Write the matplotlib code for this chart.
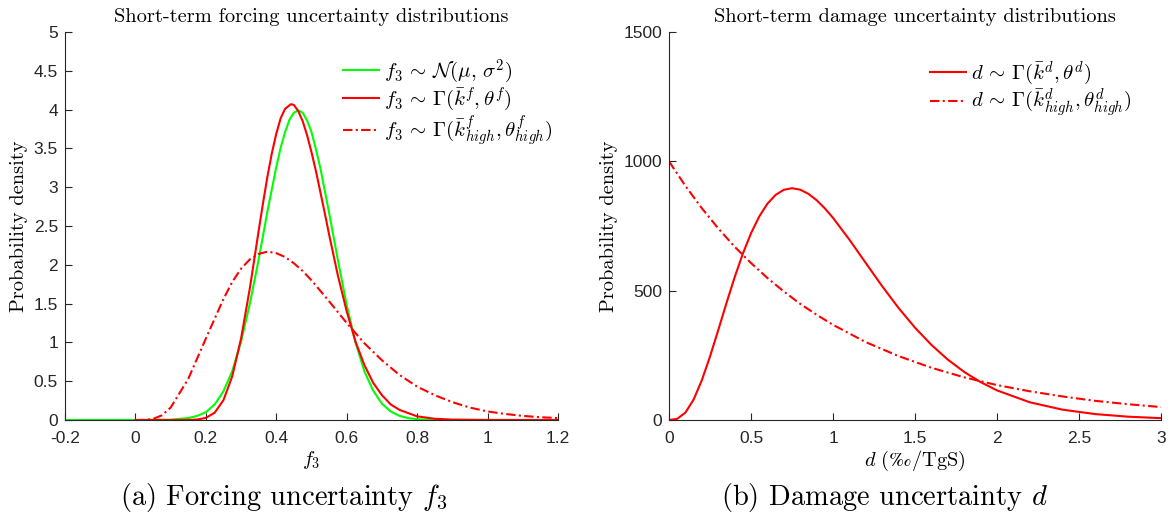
import matplotlib
matplotlib.use("Agg")
import matplotlib.pyplot as plt
from matplotlib.ticker import FuncFormatter

plt.rcParams['mathtext.fontset'] = 'cm'
plt.rcParams['axes.unicode_minus'] = False

# ---------------- data ----------------
# Panel (a): forcing f3
x_norm = [-0.2, 0.0, 0.1, 0.15, 0.175, 0.2, 0.225, 0.25, 0.275, 0.3, 0.325, 0.35,
          0.375, 0.4, 0.4125, 0.425, 0.4375, 0.45, 0.4625, 0.475, 0.4875, 0.5,
          0.5125, 0.525, 0.55, 0.575, 0.6, 0.625, 0.65, 0.675, 0.7, 0.725, 0.75,
          0.775, 0.8, 0.85, 0.9, 1.0, 1.2]
y_norm = [0, 0, 0.004, 0.025, 0.052, 0.10, 0.20, 0.37, 0.63, 1.01, 1.50, 2.07,
          2.69, 3.26, 3.51, 3.71, 3.87, 3.96, 3.99, 3.96, 3.86, 3.71,
          3.49, 3.25, 2.67, 2.06, 1.48, 1.00, 0.63, 0.38, 0.21, 0.11, 0.053,
          0.024, 0.010, 0.0015, 0.0002, 0, 0]

x_gam = [0, 0.1, 0.15, 0.175, 0.2, 0.225, 0.25, 0.275, 0.3, 0.325, 0.3375, 0.35,
         0.3625, 0.375, 0.3875, 0.4, 0.4125, 0.425, 0.4416, 0.45, 0.4625, 0.475,
         0.4875, 0.5, 0.5125, 0.525, 0.5375, 0.55, 0.575, 0.6, 0.625, 0.65,
         0.675, 0.7, 0.725, 0.75, 0.8, 0.85, 0.9, 1.0, 1.2]
y_gam = [0, 0, 0.001, 0.006, 0.027, 0.094, 0.256, 0.564, 1.05, 1.70, 2.07, 2.44,
         2.80, 3.14, 3.44, 3.69, 3.89, 4.01, 4.07, 4.06, 3.98, 3.85,
         3.67, 3.45, 3.21, 2.94, 2.67, 2.39, 1.86, 1.40, 1.01, 0.71,
         0.48, 0.32, 0.20, 0.13, 0.047, 0.016, 0.005, 0.0005, 0]

x_high = [0, 0.025, 0.05, 0.075, 0.1, 0.15, 0.2, 0.25, 0.275, 0.3, 0.325, 0.35,
          0.375, 0.4, 0.425, 0.45, 0.475, 0.5, 0.55, 0.6, 0.65, 0.7, 0.75, 0.8,
          0.85, 0.9, 0.95, 1.0, 1.05, 1.1, 1.15, 1.2]
y_high = [0, 0.001, 0.014, 0.06, 0.16, 0.53, 1.05, 1.56, 1.78, 1.95, 2.07, 2.14,
          2.17, 2.15, 2.10, 2.02, 1.92, 1.80, 1.53, 1.25, 0.99, 0.77, 0.58, 0.43,
          0.32, 0.23, 0.16, 0.11, 0.078, 0.053, 0.036, 0.025]

# Panel (b): damage d
x_d = [0, 0.05, 0.1, 0.15, 0.2, 0.25, 0.3, 0.35, 0.4, 0.45, 0.5, 0.55, 0.6,
       0.65, 0.7, 0.75, 0.8, 0.85, 0.9, 0.95, 1.0, 1.1, 1.2, 1.3, 1.4, 1.5,
       1.6, 1.7, 1.8, 1.9, 2.0, 2.2, 2.4, 2.6, 2.8, 3.0]
y_d = [0, 4.4, 28.6, 79.0, 153.4, 245.3, 347.0, 451.1, 551.3, 642.7, 721.8,
       786.5, 836.1, 870.3, 889.9, 896.2, 890.4, 874.4, 849.8, 818.3, 781.5,
       697.2, 606.8, 517.1, 432.9, 356.9, 290.4, 233.5, 185.8, 146.5, 114.5,
       68.5, 39.9, 22.8, 12.8, 7.1]

x_dh = [0, 0.1, 0.2, 0.3, 0.4, 0.5, 0.6, 0.7, 0.8, 0.9, 1.0, 1.2, 1.4, 1.6,
        1.8, 2.0, 2.2, 2.4, 2.6, 2.8, 3.0]
y_dh = [1000, 905, 819, 741, 670, 607, 549, 497, 449, 407, 368, 301, 247, 202,
        165, 135, 111, 91, 74, 61, 50]

xticks_a = [-0.2, 0, 0.2, 0.4, 0.6, 0.8, 1.0, 1.2]
yticks_a = [0, 0.5, 1, 1.5, 2, 2.5, 3, 3.5, 4, 4.5, 5]
xticks_b = [0, 0.5, 1, 1.5, 2, 2.5, 3]
yticks_b = [0, 500, 1000, 1500]

# ---------------- figure ----------------
W, H = 1171, 520
fig = plt.figure(figsize=(W / 100, H / 100), dpi=100)

def px_axes(x0, x1, ytop, ybot):
    return fig.add_axes([x0 / W, 1 - ybot / H, (x1 - x0) / W, (ybot - ytop) / H])

ax1 = px_axes(65, 558, 32, 420)
ax2 = px_axes(669, 1161, 32, 420)

axcol = '#262626'
cmfam = ['cmr10', 'DejaVu Serif']
fs = 14.7
fmt = FuncFormatter(lambda v, p: '%g' % v)
dashdot = (0, (4.5, 1.6, 1, 1.6))

for ax in (ax1, ax2):
    for s in ('top', 'right'):
        ax.spines[s].set_visible(False)
    for s in ('left', 'bottom'):
        ax.spines[s].set_color(axcol)
        ax.spines[s].set_linewidth(0.8)
    ax.tick_params(direction='in', length=5, width=0.8, colors=axcol,
                   labelsize=12.5, labelcolor='#262626')
    ax.tick_params(axis='x', pad=8)
    ax.tick_params(axis='y', pad=5)
    for lab in ax.get_xticklabels() + ax.get_yticklabels():
        lab.set_family('Liberation Sans')
    ax.xaxis.set_major_formatter(fmt)
    ax.yaxis.set_major_formatter(fmt)

leg_kw = dict(loc='upper left', frameon=False, fontsize=15, borderpad=0,
              borderaxespad=0, handlelength=1.75, handletextpad=0.25,
              labelspacing=0.0)

# panel (a)
ax1.plot(x_norm, y_norm, color=(0, 1, 0), lw=1.5,
         label=r'$f_3 \,\sim\, \mathcal{N}(\mu,\, \sigma^2)$')
ax1.plot(x_gam, y_gam, color=(1, 0, 0), lw=1.5,
         label=r'$f_3 \,\sim\, \Gamma(\bar{k}^f, \theta^f)$')
ax1.plot(x_high, y_high, color=(1, 0, 0), lw=1.5, ls=dashdot,
         label=r'$f_3 \,\sim\, \Gamma(\bar{k}^f_{high}, \theta^f_{high})$')
ax1.set_xlim(-0.2, 1.2)
ax1.set_ylim(0, 5)
ax1.set_xticks(xticks_a)
ax1.set_yticks(yticks_a)
ax1.set_title('Short-term forcing uncertainty distributions', family=cmfam,
              fontsize=fs, pad=7)
ax1.set_ylabel('Probability density', family=cmfam, fontsize=fs, labelpad=4)
ax1.set_xlabel(r'$f_3$', fontsize=fs, labelpad=2)
ax1.legend(bbox_to_anchor=(0.563, 0.935), **leg_kw)

# panel (b)
ax2.plot(x_d, y_d, color=(1, 0, 0), lw=1.5,
         label=r'$d \,\sim\, \Gamma(\bar{k}^d, \theta^d)$')
ax2.plot(x_dh, y_dh, color=(1, 0, 0), lw=1.5, ls=dashdot,
         label=r'$d \,\sim\, \Gamma(\bar{k}^d_{high}, \theta^d_{high})$')
ax2.set_xlim(0, 3)
ax2.set_ylim(0, 1500)
ax2.set_xticks(xticks_b)
ax2.set_yticks(yticks_b)
ax2.set_title('Short-term damage uncertainty distributions', family=cmfam,
              fontsize=fs, pad=7)
ax2.set_ylabel('Probability density', family=cmfam, fontsize=fs, labelpad=4)
ax2.set_xlabel(r'$d\ (‰/\mathrm{TgS})$', fontsize=fs, labelpad=2)
ax2.legend(bbox_to_anchor=(0.53, 0.93), **leg_kw)

fig.text(284 / W, 1 - 497 / H, r'(a) Forcing uncertainty $f_3$', family=cmfam,
         fontsize=20.5, ha='center', va='center')
fig.text(885 / W, 1 - 497 / H, r'(b) Damage uncertainty $d$', family=cmfam,
         fontsize=20.5, ha='center', va='center')

fig.savefig('out.png', dpi=100)
